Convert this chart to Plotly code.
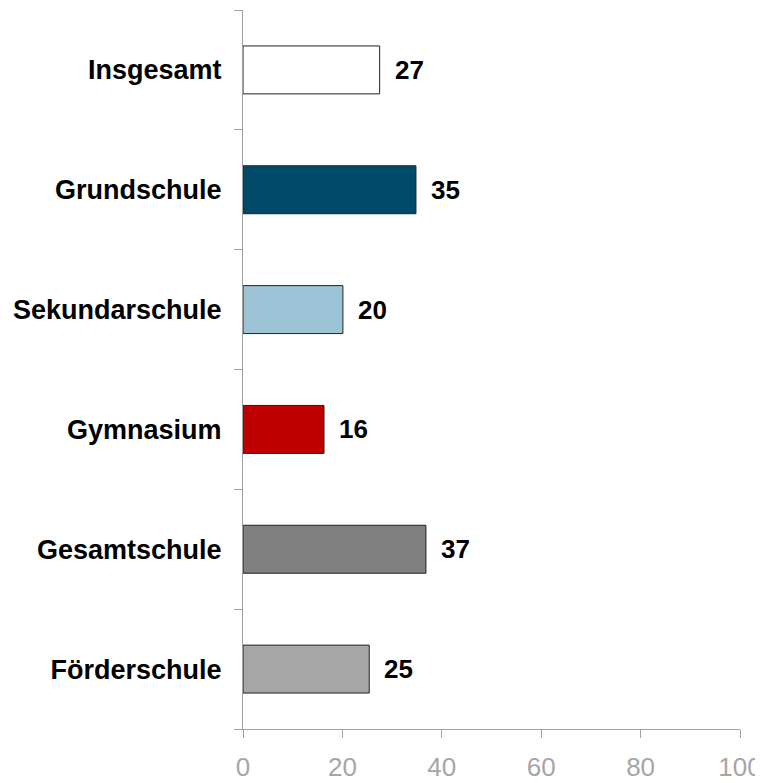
import plotly.graph_objects as go

# Kategorien von oben nach unten
schulformen = ['Insgesamt', 'Grundschule', 'Sekundarschule', 'Gymnasium', 'Gesamtschule', 'Förderschule']
werte = [27.5, 34.8, 20.1, 16.3, 36.8, 25.4]
beschriftung = ['27', '35', '20', '16', '37', '25']
farben = ['#FFFFFF', '#004A6A', '#9DC3D6', '#C00000', '#808080', '#A6A6A6']
x_ticks = [0, 20, 40, 60, 80, 100]

fig = go.Figure()

fig.add_trace(go.Bar(
    x=werte,
    y=schulformen,
    orientation='h',
    width=0.4,
    marker=dict(color=farben, line=dict(color='#222222', width=1)),
    hoverinfo='skip',
))

# Werte rechts neben den Balken
for s, w, t in zip(schulformen, werte, beschriftung):
    fig.add_annotation(x=w, y=s, text=t, showarrow=False, xanchor='left', xshift=13,
                       font=dict(family='Liberation Sans, Arial', size=26, color='black', weight='bold'))

# Seite hat 8px Rand -> Figur etwas kleiner
fig.update_layout(
    width=755, height=775,
    margin=dict(l=235, r=23, t=2, b=54),
    plot_bgcolor='white', paper_bgcolor='white',
    showlegend=False,
)

fig.update_xaxes(
    range=[0, 100], tickvals=x_ticks, showgrid=False, zeroline=False,
    showline=True, linecolor='#A0A0A0', linewidth=1,
    ticks='outside', ticklen=8, tickcolor='#A0A0A0',
    tickfont=dict(family='Liberation Sans, Arial', size=26, color='#A6A6A6'),
    ticklabelstandoff=7, automargin=False,
)

fig.update_yaxes(
    categoryorder='array', categoryarray=schulformen[::-1],
    tickson='boundaries', ticks='outside', ticklen=8, tickcolor='#A0A0A0',
    showline=True, linecolor='#A0A0A0', linewidth=1, showgrid=False,
    tickfont=dict(family='Liberation Sans, Arial', size=27, color='black', weight='bold'),
    ticklabelstandoff=15, automargin=False,
)

fig.write_html("out.html")
